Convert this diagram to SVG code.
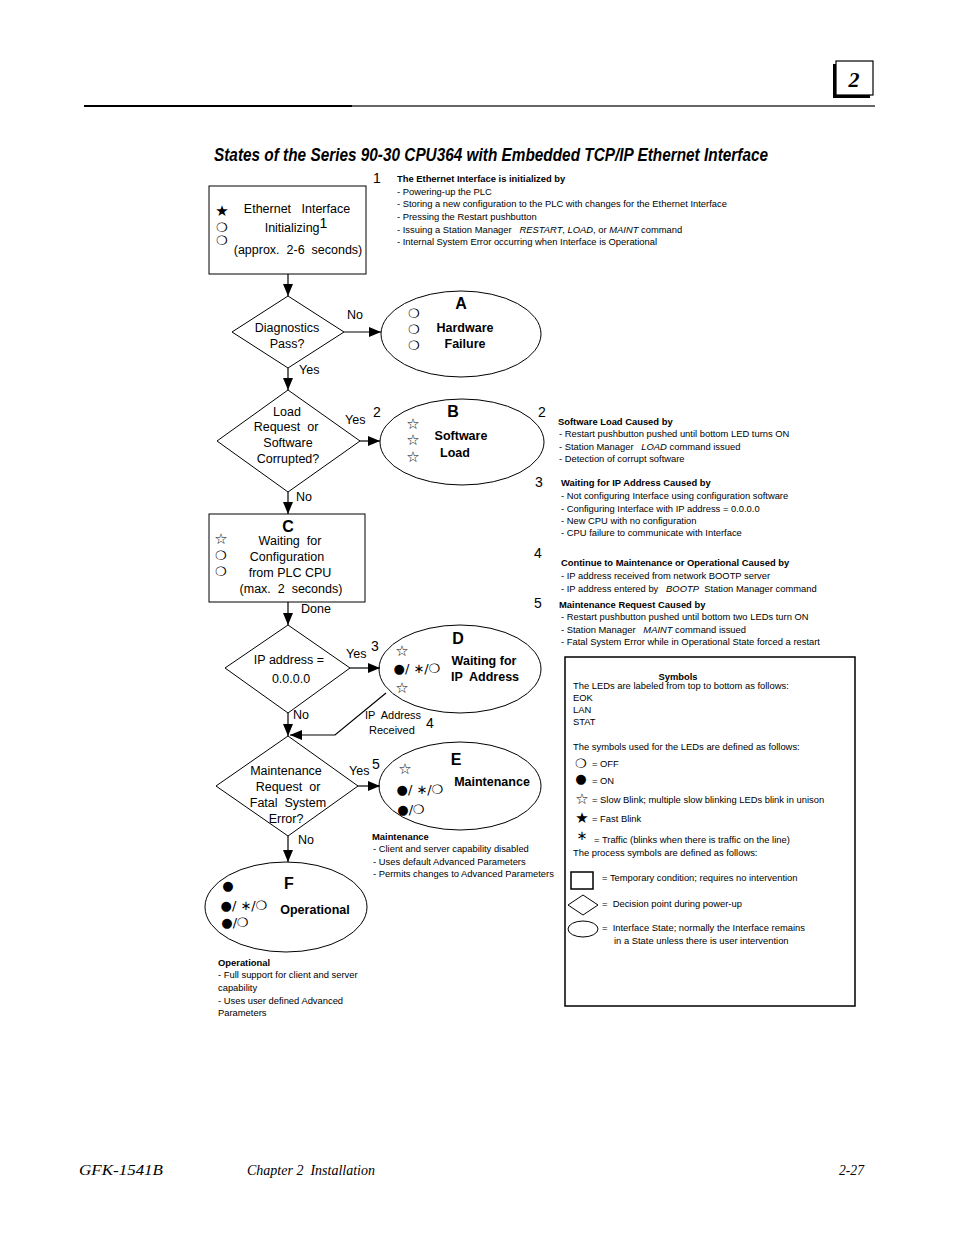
<svg xmlns="http://www.w3.org/2000/svg" width="954" height="1235" viewBox="0 0 954 1235">
<style>
text{white-space:pre}
.s{fill:none;stroke:#000;stroke-width:1}
.t{font-family:"Liberation Sans",Arial,sans-serif;font-size:12.5px;fill:#000}
.c{text-anchor:middle}
.b{font-weight:bold}
.L{font-family:"Liberation Sans",Arial,sans-serif;font-size:16px;font-weight:bold;text-anchor:middle}
.n{font-family:"Liberation Sans",Arial,sans-serif;font-size:14px}
.sm{font-family:"Liberation Sans",Arial,sans-serif;font-size:9.4px;fill:#000}
.g{font-family:"DejaVu Sans",sans-serif;font-size:13px}
.st{font-family:"DejaVu Sans",sans-serif;font-size:15px;text-anchor:middle}
.ft{font-family:"Liberation Serif","Times New Roman",serif;font-size:14px;font-style:italic}
</style>
<defs>
<marker id="ah" markerUnits="userSpaceOnUse" markerWidth="12" markerHeight="10" refX="12" refY="5" orient="auto">
<path d="M0,0 L12,5 L0,10 Z" fill="#000"/>
</marker>
</defs>

<!-- header -->
<g id="header">
<rect x="833" y="64" width="37" height="34" fill="#000"/>
<rect x="836" y="61" width="37" height="34" fill="#fff" stroke="#000" stroke-width="1.2"/>
<text x="854" y="87" font-family="Liberation Serif,serif" font-size="22" font-style="italic" font-weight="bold" text-anchor="middle">2</text>
<line x1="84" y1="106" x2="352" y2="106" stroke="#000" stroke-width="2"/>
<line x1="352" y1="106" x2="875" y2="106" stroke="#333" stroke-width="1.3"/>
<text x="214" y="161" font-family="Liberation Sans,Arial,sans-serif" font-size="18" font-weight="bold" font-style="italic" textLength="554" lengthAdjust="spacingAndGlyphs">States of the Series 90-30 CPU364 with Embedded TCP/IP Ethernet Interface</text>
</g>

<!-- connectors -->
<g id="connectors" stroke="#000" stroke-width="1.2" fill="none">
<line x1="288" y1="274" x2="288" y2="296" marker-end="url(#ah)"/>
<line x1="344" y1="332" x2="381" y2="332" marker-end="url(#ah)"/>
<line x1="288" y1="368" x2="288" y2="390" marker-end="url(#ah)"/>
<line x1="360" y1="441" x2="380" y2="441" marker-end="url(#ah)"/>
<line x1="288" y1="492" x2="288" y2="514" marker-end="url(#ah)"/>
<line x1="288" y1="602" x2="288" y2="625" marker-end="url(#ah)"/>
<line x1="350" y1="668" x2="380" y2="668" marker-end="url(#ah)"/>
<line x1="288" y1="713" x2="288" y2="736" marker-end="url(#ah)"/>
<polyline points="386,693 335,735 290,735" marker-end="url(#ah)"/>
<line x1="358" y1="786" x2="380" y2="786" marker-end="url(#ah)"/>
<line x1="288" y1="836" x2="288" y2="862" marker-end="url(#ah)"/>
</g>

<g id="labels" class="t">
<text x="355" y="319" class="t c">No</text>
<text x="299" y="374" class="t">Yes</text>
<text x="345" y="424" class="t">Yes</text>
<text x="373" y="417" class="n">2</text>
<text x="296" y="501" class="t">No</text>
<text x="301" y="613" class="t">Done</text>
<text x="346" y="658" class="t">Yes</text>
<text x="371" y="651" class="n">3</text>
<text x="293" y="719" class="t">No</text>
<text x="365" y="719" class="sm" style="font-size:11px">IP  Address</text>
<text x="369" y="734" class="sm" style="font-size:11px">Received</text>
<text x="426" y="728" class="n">4</text>
<text x="349" y="775" class="t">Yes</text>
<text x="372" y="769" class="n">5</text>
<text x="298" y="844" class="t">No</text>
</g>

<!-- Node 1 -->
<g id="n-init">
<rect x="209" y="186" width="157" height="88" class="s"/>
<text x="222" y="216" class="st">★</text>
<text x="222" y="232" class="g c">❍</text>
<text x="222" y="245" class="g c">❍</text>
<text x="297" y="213" class="t c">Ethernet   Interface</text>
<text x="296" y="232" class="t c">Initializing<tspan dy="-4" font-size="14">1</tspan></text>
<text x="298" y="254" class="t c">(approx.  2-6  seconds)</text>
</g>

<!-- Diagnostics -->
<g id="d-diag">
<polygon points="288,296 344,332 288,368 232,332" class="s"/>
<text x="287" y="332" class="t c">Diagnostics</text>
<text x="287" y="348" class="t c">Pass?</text>
</g>

<!-- A -->
<g id="s-A">
<ellipse cx="461" cy="334" rx="80" ry="43" class="s"/>
<text x="461" y="309" class="L">A</text>
<text x="414" y="318" class="g c">❍</text>
<text x="414" y="334" class="g c">❍</text>
<text x="414" y="350" class="g c">❍</text>
<text x="465" y="332" class="t c b">Hardware</text>
<text x="465" y="348" class="t c b">Failure</text>
</g>

<!-- Load diamond -->
<g id="d-load">
<polygon points="288,390 360,441 288,492 217,441" class="s"/>
<text x="287" y="416" class="t c">Load</text>
<text x="286" y="431" class="t c">Request  or</text>
<text x="288" y="447" class="t c">Software</text>
<text x="288" y="463" class="t c">Corrupted?</text>
</g>

<!-- B -->
<g id="s-B">
<ellipse cx="462" cy="442" rx="82" ry="43" class="s"/>
<text x="453" y="417" class="L">B</text>
<text x="413" y="429" class="st">☆</text>
<text x="413" y="445" class="st">☆</text>
<text x="413" y="462" class="st">☆</text>
<text x="461" y="440" class="t c b">Software</text>
<text x="455" y="457" class="t c b">Load</text>
</g>
<text x="538" y="417" class="n">2</text>
<text x="535" y="487" class="n">3</text>

<!-- C -->
<g id="n-C">
<rect x="209" y="514" width="156" height="88" class="s"/>
<text x="288" y="532" class="L">C</text>
<text x="221" y="544" class="st">☆</text>
<text x="221" y="560" class="g c">❍</text>
<text x="221" y="576" class="g c">❍</text>
<text x="290" y="545" class="t c">Waiting  for</text>
<text x="287" y="561" class="t c">Configuration</text>
<text x="290" y="577" class="t c">from PLC CPU</text>
<text x="291" y="593" class="t c">(max.  2  seconds)</text>
</g>

<!-- IP diamond -->
<g id="d-ip">
<polygon points="288,625 350,668 288,713 225,668" class="s"/>
<text x="289" y="664" class="t c">IP address =</text>
<text x="291" y="683" class="t c">0.0.0.0</text>
</g>

<!-- D -->
<g id="s-D">
<ellipse cx="460" cy="669" rx="81" ry="44" class="s"/>
<text x="458" y="644" class="L">D</text>
<text x="402" y="656" class="st">☆</text>
<text x="417" y="673" class="g c" font-size="12">●/ ∗/❍</text>
<text x="402" y="693" class="st">☆</text>
<text x="484" y="665" class="t c b">Waiting for</text>
<text x="485" y="681" class="t c b">IP  Address</text>
</g>

<!-- Maint diamond -->
<g id="d-maint">
<polygon points="288,736 358,786 288,836 216,786" class="s"/>
<text x="286" y="775" class="t c">Maintenance</text>
<text x="288" y="791" class="t c">Request  or</text>
<text x="288" y="807" class="t c">Fatal  System</text>
<text x="286" y="823" class="t c">Error?</text>
</g>

<!-- E -->
<g id="s-E">
<ellipse cx="460" cy="786" rx="81" ry="44" class="s"/>
<text x="456" y="765" class="L">E</text>
<text x="405" y="774" class="st">☆</text>
<text x="420" y="794" class="g c" font-size="12">●/ ∗/❍</text>
<text x="411" y="814" class="g c" font-size="12">●/❍</text>
<text x="492" y="786" class="t c b">Maintenance</text>
</g>

<!-- F -->
<g id="s-F">
<ellipse cx="286" cy="907" rx="81" ry="45" class="s"/>
<text x="289" y="889" class="L">F</text>
<text x="228" y="890" class="g c" font-size="12">●</text>
<text x="244" y="910" class="g c" font-size="12">●/ ∗/❍</text>
<text x="235" y="927" class="g c" font-size="12">●/❍</text>
<text x="315" y="914" class="t c b">Operational</text>
</g>

<!-- notes -->
<g id="notes" class="sm">
<text x="373" y="183" class="n">1</text>
<text x="397" y="182" class="sm b">The Ethernet Interface is initialized by</text>
<text x="397" y="195" class="sm">- Powering-up the PLC</text>
<text x="397" y="207" class="sm">- Storing a new configuration to the PLC with changes for the Ethernet Interface</text>
<text x="397" y="220" class="sm">- Pressing the Restart pushbutton</text>
<text x="397" y="233" class="sm">- Issuing a Station Manager   <tspan font-style="italic">RESTART</tspan>, <tspan font-style="italic">LOAD</tspan>, or <tspan font-style="italic">MAINT</tspan> command</text>
<text x="397" y="245" class="sm">- Internal System Error occurring when Interface is Operational</text>

<text x="558" y="425" class="sm b">Software Load Caused by</text>
<text x="559" y="437" class="sm">- Restart pushbutton pushed until bottom LED turns ON</text>
<text x="559" y="450" class="sm">- Station Manager   <tspan font-style="italic">LOAD</tspan> command issued</text>
<text x="559" y="462" class="sm">- Detection of corrupt software</text>

<text x="561" y="486" class="sm b">Waiting for IP Address Caused by</text>
<text x="561" y="499" class="sm">- Not configuring Interface using configuration software</text>
<text x="561" y="512" class="sm">- Configuring Interface with IP address = 0.0.0.0</text>
<text x="561" y="524" class="sm">- New CPU with no configuration</text>
<text x="561" y="536" class="sm">- CPU failure to communicate with Interface</text>

<text x="534" y="558" class="n">4</text>
<text x="561" y="566" class="sm b">Continue to Maintenance or Operational Caused by</text>
<text x="561" y="579" class="sm">- IP address received from network BOOTP server</text>
<text x="561" y="592" class="sm">- IP address entered by   <tspan font-style="italic">BOOTP</tspan>  Station Manager command</text>

<text x="534" y="608" class="n">5</text>
<text x="559" y="608" class="sm b">Maintenance Request Caused by</text>
<text x="561" y="620" class="sm">- Restart pushbutton pushed until bottom two LEDs turn ON</text>
<text x="561" y="633" class="sm">- Station Manager   <tspan font-style="italic">MAINT</tspan> command issued</text>
<text x="561" y="645" class="sm">- Fatal System Error while in Operational State forced a restart</text>

<text x="372" y="840" class="sm b">Maintenance</text>
<text x="373" y="852" class="sm">- Client and server capability disabled</text>
<text x="373" y="865" class="sm">- Uses default Advanced Parameters</text>
<text x="373" y="877" class="sm">- Permits changes to Advanced Parameters</text>

<text x="218" y="966" class="sm b">Operational</text>
<text x="218" y="978" class="sm">- Full support for client and server</text>
<text x="218" y="991" class="sm">capability</text>
<text x="218" y="1004" class="sm">- Uses user defined Advanced</text>
<text x="218" y="1016" class="sm">Parameters</text>
</g>

<!-- Symbols legend -->
<g id="legend">
<rect x="565" y="657" width="290" height="349" fill="none" stroke="#000" stroke-width="1.5"/>
<text x="678" y="680" class="sm b c">Symbols</text>
<text x="573" y="689" class="sm">The LEDs are labeled from top to bottom as follows:</text>
<text x="573" y="701" class="sm">EOK</text>
<text x="573" y="713" class="sm">LAN</text>
<text x="573" y="725" class="sm">STAT</text>
<text x="573" y="750" class="sm">The symbols used for the LEDs are defined as follows:</text>
<text x="581" y="768" class="g c">❍</text><text x="592" y="767" class="sm">= OFF</text>
<text x="581" y="783" class="g c">●</text><text x="592" y="784" class="sm">= ON</text>
<text x="582" y="804" class="st">☆</text><text x="592" y="803" class="sm">= Slow Blink; multiple slow blinking LEDs blink in unison</text>
<text x="582" y="823" class="st">★</text><text x="592" y="822" class="sm">= Fast Blink</text>
<text x="582" y="840" class="g c">∗</text><text x="594" y="843" class="sm">= Traffic (blinks when there is traffic on the line)</text>
<text x="573" y="856" class="sm">The process symbols are defined as follows:</text>
<rect x="571" y="872" width="22" height="17" fill="none" stroke="#000" stroke-width="1.5"/>
<text x="602" y="881" class="sm">= Temporary condition; requires no intervention</text>
<polygon points="583,895 598,905 583,915 568,905" class="s"/>
<text x="602" y="907" class="sm">=  Decision point during power-up</text>
<ellipse cx="583" cy="929" rx="15" ry="8" class="s"/>
<text x="602" y="931" class="sm">=  Interface State; normally the Interface remains</text>
<text x="614" y="944" class="sm">in a State unless there is user intervention</text>
</g>

<!-- footer -->
<g id="footer">
<text x="79" y="1175" class="ft" textLength="84" lengthAdjust="spacingAndGlyphs">GFK-1541B</text>
<text x="247" y="1175" class="ft" textLength="128" lengthAdjust="spacingAndGlyphs">Chapter 2  Installation</text>
<text x="839" y="1175" class="ft" textLength="25" lengthAdjust="spacingAndGlyphs">2-27</text>
</g>
</svg>
